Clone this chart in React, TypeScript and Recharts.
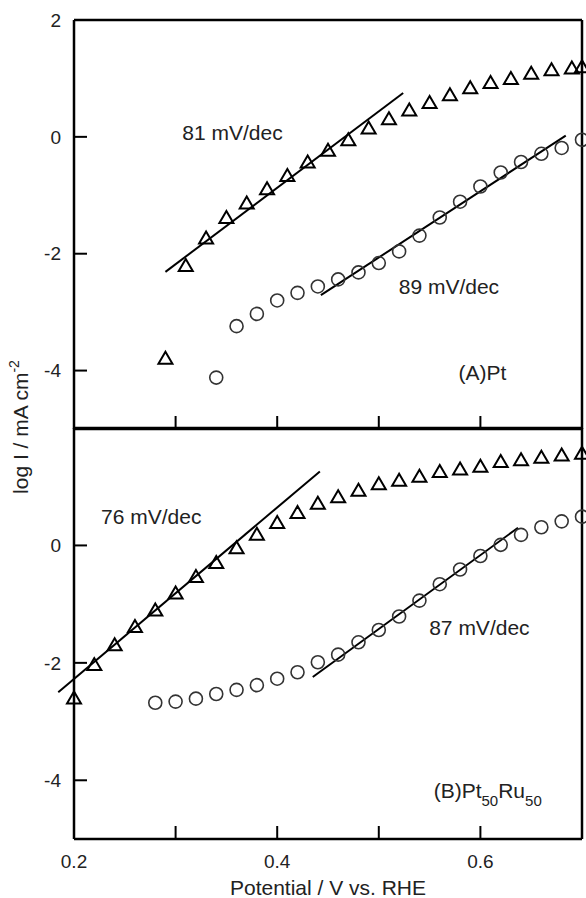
import React from 'react';
import {
  ScatterChart,
  Scatter,
  XAxis,
  YAxis,
  ReferenceLine,
  ReferenceDot,
} from 'recharts';

const FONT = '"Liberation Sans", Arial, Helvetica, sans-serif';

// ---------- (A) Pt ----------
const ptTrianglePotential = [0.29, 0.31, 0.33, 0.35, 0.37, 0.39, 0.41, 0.43, 0.45, 0.47, 0.49, 0.51, 0.53, 0.55, 0.57, 0.59, 0.61, 0.63, 0.65, 0.67, 0.69, 0.7];
const ptTriangleLogI = [-3.79, -2.2, -1.73, -1.38, -1.13, -0.89, -0.66, -0.43, -0.23, -0.05, 0.15, 0.31, 0.46, 0.59, 0.72, 0.84, 0.93, 1.0, 1.09, 1.15, 1.18, 1.2];
const ptCirclePotential = [0.34, 0.36, 0.38, 0.4, 0.42, 0.44, 0.46, 0.48, 0.5, 0.52, 0.54, 0.56, 0.58, 0.6, 0.62, 0.64, 0.66, 0.68, 0.7];
const ptCircleLogI = [-4.12, -3.24, -3.03, -2.8, -2.67, -2.56, -2.44, -2.32, -2.16, -1.96, -1.69, -1.38, -1.11, -0.85, -0.61, -0.43, -0.29, -0.19, -0.05];
const ptFit81 = [[0.29, -2.31], [0.524, 0.75]];
const ptFit89 = [[0.443, -2.71], [0.684, 0.02]];

// ---------- (B) Pt50Ru50 ----------
const ptruTrianglePotential = [0.2, 0.22, 0.24, 0.26, 0.28, 0.3, 0.32, 0.34, 0.36, 0.38, 0.4, 0.42, 0.44, 0.46, 0.48, 0.5, 0.52, 0.54, 0.56, 0.58, 0.6, 0.62, 0.64, 0.66, 0.68, 0.7];
const ptruTriangleLogI = [-2.6, -2.03, -1.69, -1.38, -1.1, -0.81, -0.53, -0.29, -0.04, 0.19, 0.39, 0.56, 0.72, 0.83, 0.94, 1.05, 1.11, 1.18, 1.26, 1.3, 1.35, 1.43, 1.46, 1.5, 1.54, 1.57];
const ptruCirclePotential = [0.28, 0.3, 0.32, 0.34, 0.36, 0.38, 0.4, 0.42, 0.44, 0.46, 0.48, 0.5, 0.52, 0.54, 0.56, 0.58, 0.6, 0.62, 0.64, 0.66, 0.68, 0.7];
const ptruCircleLogI = [-2.68, -2.66, -2.61, -2.53, -2.46, -2.38, -2.27, -2.16, -1.99, -1.86, -1.65, -1.44, -1.21, -0.94, -0.66, -0.41, -0.18, 0.01, 0.18, 0.31, 0.41, 0.49];
const ptruFit76 = [[0.1845, -2.5], [0.442, 1.26]];
const ptruFit87 = [[0.435, -2.24], [0.637, 0.3]];

// ---------- axes & labels ----------
const xDomain = [0.2, 0.7];
const yDomain = [-5, 2];
const xTicks = [0.2, 0.3, 0.4, 0.5, 0.6, 0.7];
const xLabelled = [0.2, 0.4, 0.6];
const yTicksTop = [-4, -2, 0, 2];
const yTicksBottom = [-4, -2, 0];
const xTitle = 'Potential / V vs. RHE';
const yTitle = 'log I / mA cm';
const yTitleSup = '-2';

const ptNotes = [
  { text: '81 mV/dec', x: 0.356, y: 0.07 },
  { text: '89 mV/dec', x: 0.569, y: -2.56 },
  { text: '(A)Pt', x: 0.602, y: -4.03 },
];
const ptruNotes = [
  { text: '76 mV/dec', x: 0.276, y: 0.49 },
  { text: '87 mV/dec', x: 0.599, y: -1.4 },
];
const ptruTitle = { x: 0.554, y: -4.18, parts: ['(B)Pt', '50', 'Ru', '50'] };

const zip = (xs: number[], ys: number[]) => xs.map((x, i) => ({ x, y: ys[i] }));

const Triangle = (props: any) => {
  const { cx, cy } = props;
  if (cx == null || cy == null) return null;
  return (
    <polygon
      points={`${cx},${cy - 6.5} ${cx - 7},${cy + 5.5} ${cx + 7},${cy + 5.5}`}
      fill="none"
      stroke="#000"
      strokeWidth={2}
    />
  );
};

const Circle = (props: any) => {
  const { cx, cy } = props;
  if (cx == null || cy == null) return null;
  return <circle cx={cx} cy={cy} r={6.5} fill="none" stroke="#333" strokeWidth={1.6} />;
};

const NoteText = (text: string) => (props: any) => {
  const vb = props.viewBox || {};
  const x = (vb.x ?? 0) + (vb.width ?? 0) / 2;
  const y = (vb.y ?? 0) + (vb.height ?? 0) / 2;
  return (
    <text x={x} y={y} dy="0.36em" textAnchor="middle" fontSize={21} fill="#222" fontFamily={FONT}>
      {text}
    </text>
  );
};

const SubTitle = (props: any) => {
  const vb = props.viewBox || {};
  const x = (vb.x ?? 0) + (vb.width ?? 0) / 2;
  const y = (vb.y ?? 0) + (vb.height ?? 0) / 2;
  const [a, b, c, d] = ptruTitle.parts;
  return (
    <text x={x} y={y} dy="0.36em" textAnchor="start" fontSize={21} fill="#222" fontFamily={FONT}>
      <tspan>{a}</tspan>
      <tspan dy={8} fontSize={15}>{b}</tspan>
      <tspan dy={-8}>{c}</tspan>
      <tspan dy={8} fontSize={15}>{d}</tspan>
    </text>
  );
};

const YTitle = (props: any) => {
  const vb = props.viewBox || {};
  const bx = (vb.x ?? 0) + 14;
  const cy = (vb.y ?? 0) + (vb.height ?? 0) - 2;
  return (
    <text
      x={bx}
      y={cy}
      transform={`rotate(-90 ${bx} ${cy})`}
      textAnchor="middle"
      fontSize={21}
      fill="#222"
      fontFamily={FONT}
    >
      <tspan>{yTitle}</tspan>
      <tspan dy={-9} fontSize={14}>{yTitleSup}</tspan>
    </text>
  );
};

const axisLine = { stroke: '#000', strokeWidth: 2.5 };
const tickLine = { stroke: '#000', strokeWidth: 2 };
const tickFont = { fontSize: 19, fill: '#222', fontFamily: FONT };

const fmtX = (v: number) => (xLabelled.some((t) => Math.abs(t - v) < 1e-9) ? v.toFixed(1) : '');
const fmtY = (v: number) => String(v);
const fmtNone = () => '';

const W = 586;
const H = 898;

function Panel(props: {
  top: boolean;
  triangles: { x: number; y: number }[];
  circles: { x: number; y: number }[];
  fits: number[][][];
  notes: { text: string; x: number; y: number }[];
}) {
  const { top, triangles, circles, fits, notes } = props;
  // plot area: top panel y 20..429, bottom panel y 428..839
  const margin = top
    ? { top: 19, right: 3, bottom: 468, left: 14 }
    : { top: 427, right: 3, bottom: 0, left: 14 };
  return (
    <ScatterChart width={W} height={H} margin={margin}>
      <XAxis
        xAxisId={0}
        type="number"
        dataKey="x"
        domain={xDomain}
        ticks={xTicks}
        interval={0}
        height={top ? 1 : 59}
        axisLine={axisLine}
        tickLine={tickLine}
        tickSize={-13}
        tickMargin={29}
        tick={top ? { fontSize: 1, fill: 'none' } : tickFont}
        tickFormatter={top ? fmtNone : fmtX}
        label={
          top
            ? undefined
            : { value: xTitle, position: 'insideBottom', offset: 3, fontSize: 21, fill: '#222', fontFamily: FONT }
        }
      />
      <XAxis
        xAxisId="top"
        orientation="top"
        type="number"
        dataKey="x"
        domain={xDomain}
        ticks={xTicks}
        interval={0}
        height={1}
        axisLine={axisLine}
        tickLine={tickLine}
        tickSize={-13}
        tick={{ fontSize: 1, fill: 'none' }}
        tickFormatter={fmtNone}
      />
      <YAxis
        yAxisId={0}
        type="number"
        dataKey="y"
        domain={yDomain}
        ticks={top ? yTicksTop : yTicksBottom}
        interval={0}
        width={60}
        axisLine={axisLine}
        tickLine={tickLine}
        tickSize={-13}
        tickMargin={26}
        tick={tickFont}
        tickFormatter={fmtY}
        label={top ? { content: YTitle } : undefined}
      />
      <YAxis
        yAxisId="right"
        orientation="right"
        type="number"
        dataKey="y"
        domain={yDomain}
        width={1}
        axisLine={axisLine}
        tickLine={false}
        tick={false}
      />
      {fits.map((seg, i) => (
        <ReferenceLine
          key={`fit-${i}`}
          segment={[
            { x: seg[0][0], y: seg[0][1] },
            { x: seg[1][0], y: seg[1][1] },
          ]}
          stroke="#000"
          strokeWidth={2}
          ifOverflow="visible"
        />
      ))}
      <Scatter data={circles} dataKey="y" shape={Circle} isAnimationActive={false} />
      <Scatter data={triangles} dataKey="y" shape={Triangle} isAnimationActive={false} />
      {notes.map((n, i) => (
        <ReferenceDot
          key={`note-${i}`}
          x={n.x}
          y={n.y}
          r={1}
          fill="none"
          stroke="none"
          ifOverflow="visible"
          label={{ content: NoteText(n.text) }}
        />
      ))}
      {!top && (
        <ReferenceDot
          x={ptruTitle.x}
          y={ptruTitle.y}
          r={1}
          fill="none"
          stroke="none"
          ifOverflow="visible"
          label={{ content: SubTitle }}
        />
      )}
    </ScatterChart>
  );
}

export default function App() {
  return (
    <div style={{ position: 'absolute', left: 0, top: 0, width: W, height: H, background: '#fff' }}>
      <div style={{ position: 'absolute', left: 0, top: 0 }}>
        <Panel
          top
          triangles={zip(ptTrianglePotential, ptTriangleLogI)}
          circles={zip(ptCirclePotential, ptCircleLogI)}
          fits={[ptFit81, ptFit89]}
          notes={ptNotes}
        />
      </div>
      <div style={{ position: 'absolute', left: 0, top: 0 }}>
        <Panel
          top={false}
          triangles={zip(ptruTrianglePotential, ptruTriangleLogI)}
          circles={zip(ptruCirclePotential, ptruCircleLogI)}
          fits={[ptruFit76, ptruFit87]}
          notes={ptruNotes}
        />
      </div>
    </div>
  );
}
